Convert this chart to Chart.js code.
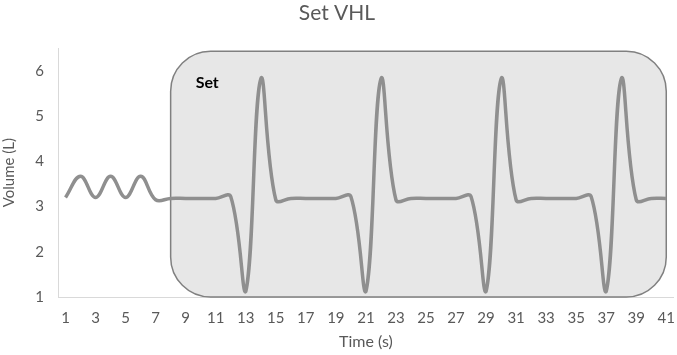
<!DOCTYPE html>
<html>
<head>
<meta charset="utf-8">
<script src="https://cdn.jsdelivr.net/npm/chart.js@4/dist/chart.umd.min.js"></script>
<style>
  html, body { margin: 0; padding: 0; background: #fff; }
  #wrap { width: 677px; height: 355px; }
</style>
</head>
<body>
<div id="wrap"><canvas id="chart-vhl"></canvas></div>
<script>
// time axis, seconds 1..41
const seconds = ['1','2','3','4','5','6','7','8','9','10','11','12','13','14','15','16','17','18','19','20',
                 '21','22','23','24','25','26','27','28','29','30','31','32','33','34','35','36','37','38','39','40','41']

// volume (L)
const volume = [
  3.20, 3.67, 3.20, 3.67, 3.20, 3.67, 3.15, 3.18, 3.18, 3.18,
  3.18, 3.22, 1.12, 5.82, 3.15, 3.18, 3.18, 3.18, 3.18, 3.22,
  1.12, 5.82, 3.15, 3.18, 3.18, 3.18, 3.18, 3.22, 1.12, 5.82,
  3.15, 3.18, 3.18, 3.18, 3.18, 3.22, 1.12, 5.82, 3.15, 3.18,
  3.18,
]

const yTicks = [1, 2, 3, 4, 5, 6]

// shaded "Set" phase: from second 8 to 41, volume 1 .. 6.43
const setPhase = ['8', '41']
const setRange = [1, 6.43]
const setLabel = 'Set'

const FONT = 'Lato, "Open Sans", sans-serif'
const GREY = '#595959'

const setBoxPlugin = {
  id: 'setBox',
  beforeDatasetsDraw(chart) {
    const { ctx, scales: { x, y } } = chart
    const x0 = x.getPixelForValue(seconds.indexOf(setPhase[0]))
    const x1 = x.getPixelForValue(seconds.indexOf(setPhase[1]))
    const y0 = y.getPixelForValue(setRange[1])
    const y1 = y.getPixelForValue(setRange[0])
    ctx.save()
    ctx.beginPath()
    ctx.roundRect(x0, y0, x1 - x0, y1 - y0, 40)
    ctx.fillStyle = '#e7e7e7'
    ctx.fill()
    ctx.lineWidth = 1.5
    ctx.strokeStyle = '#808080'
    ctx.stroke()
    ctx.fillStyle = '#000'
    ctx.font = 'bold 16px ' + FONT
    ctx.textBaseline = 'alphabetic'
    ctx.fillText(setLabel, x0 + 25, y0 + 37)
    ctx.restore()
  },
}

new Chart(document.getElementById('chart-vhl'), {
  type: 'line',
  data: {
    labels: seconds,
    datasets: [{
      label: 'Volume',
      data: volume,
      borderColor: '#8f8f8f',
      borderWidth: 3.5,
      pointRadius: 0,
      tension: 0.4,
      fill: false,
    }],
  },
  options: {
    responsive: true,
    maintainAspectRatio: false,
    animation: false,
    layout: { padding: { left: 0, right: 3, top: 0, bottom: 4 } },
    plugins: {
      legend: { display: false },
      tooltip: { enabled: false },
      title: {
        display: true,
        text: 'Set VHL',
        color: GREY,
        font: { family: FONT, size: 21, weight: 'normal' },
        padding: { top: 1, bottom: 22 },
      },
    },
    scales: {
      x: {
        offset: true,
        grid: { display: false, tickLength: 10 },
        border: { display: true, color: '#d9d9d9', width: 1 },
        ticks: {
          color: GREY,
          font: { family: FONT, size: 15 },
          autoSkip: false,
          maxRotation: 0,
          padding: 2,
          callback: (v, i) => (i % 2 === 0 ? seconds[i] : ''),
        },
        title: {
          display: true,
          text: 'Time (s)',
          color: GREY,
          font: { family: FONT, size: 16 },
          padding: 0,
        },
        afterFit: s => { s.height = 54 },
      },
      y: {
        min: 1,
        max: 6.5,
        grid: { display: false },
        border: { display: true, color: '#d9d9d9', width: 1 },
        afterBuildTicks: s => { s.ticks = yTicks.map(v => ({ value: v })) },
        ticks: {
          color: GREY,
          font: { family: FONT, size: 15 },
          padding: 6,
        },
        title: {
          display: true,
          text: 'Volume (L)',
          color: GREY,
          font: { family: FONT, size: 15 },
          padding: 0,
        },
        afterFit: s => { s.width = 58 },
      },
    },
  },
  plugins: [setBoxPlugin],
})
</script>
</body>
</html>
